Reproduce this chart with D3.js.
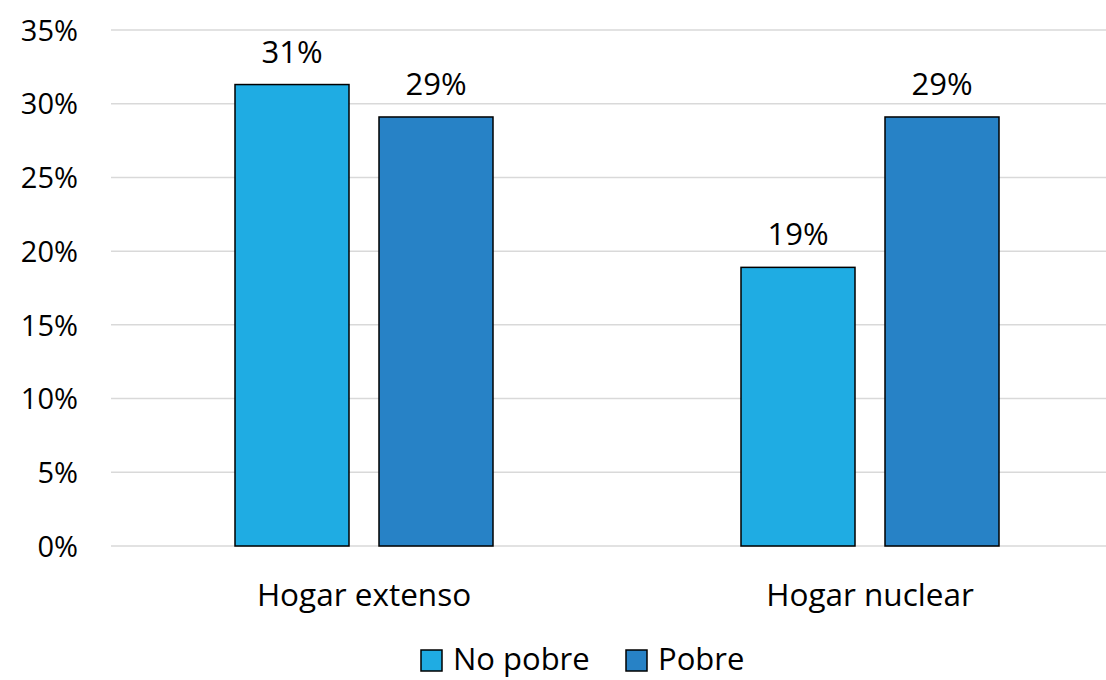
<!DOCTYPE html>
<html><head><meta charset="utf-8">
<script src="https://cdn.jsdelivr.net/npm/d3@7"></script>
<style>body{margin:0;background:#fff}svg{display:block}text{font-family:"Open Sans",sans-serif;fill:#000}</style>
</head><body><svg id="c" width="1106" height="680"></svg>
<script>
const categories = ["Hogar extenso", "Hogar nuclear"];
const seriesNames = ["No pobre", "Pobre"];
const noPobre = [0.313, 0.189];
const pobre = [0.291, 0.291];
const yTicks = [0, 0.05, 0.10, 0.15, 0.20, 0.25, 0.30, 0.35];
const colors = ["#1FACE3", "#2782C6"];

const svg = d3.select("#c");
const m = {l:111, r:1123, t:30, b:546};
const x0 = d3.scaleBand().domain(categories).range([m.l, m.r]);
const x1 = d3.scaleBand().domain(seriesNames).range([0, 258]).paddingInner(30/144);
const y = d3.scaleLinear().domain([0, 0.35]).range([m.b, m.t]);

// gridlines
svg.append("g").selectAll("line").data(yTicks).join("line")
  .attr("x1", m.l).attr("x2", 1106).attr("y1", d=>y(d)).attr("y2", d=>y(d))
  .attr("stroke", "#d9d9d9").attr("stroke-width", 1.5);

// y axis labels
const yAxis = d3.axisLeft(y).tickValues(yTicks).tickFormat(d3.format(".0%")).tickSize(0).tickPadding(0);
const ga = svg.append("g").attr("transform", `translate(${78},0)`).call(yAxis);
ga.select(".domain").remove();
ga.selectAll("text").attr("font-size", 29).attr("font-family", "Open Sans").attr("fill", "#000").attr("dy", "0.35em");

const data = categories.map((c,i)=>({cat:c, vals:[{s:seriesNames[0], v:noPobre[i]}, {s:seriesNames[1], v:pobre[i]}]}));
const groups = svg.append("g").selectAll("g").data(data).join("g")
  .attr("transform", d=>`translate(${x0(d.cat)+x0.bandwidth()/2-129},0)`);
groups.selectAll("rect").data(d=>d.vals).join("rect")
  .attr("x", d=>x1(d.s)).attr("width", x1.bandwidth())
  .attr("y", d=>y(d.v)).attr("height", d=>y(0)-y(d.v))
  .attr("fill", (d,i)=>colors[i]).attr("stroke", "#000").attr("stroke-width", 1.5);
groups.selectAll("text.lbl").data(d=>d.vals).join("text").attr("class","lbl")
  .attr("x", d=>x1(d.s)+x1.bandwidth()/2).attr("y", d=>y(d.v)-22)
  .attr("text-anchor", "middle").attr("font-size", 31)
  .text(d=>d3.format(".0%")(d.v));

// x axis labels
svg.append("g").selectAll("text").data(categories).join("text")
  .attr("x", d=>x0(d)+x0.bandwidth()/2).attr("y", 606)
  .attr("text-anchor", "middle").attr("font-size", 31.5).text(d=>d);

// legend
const legX = [421, 626];
const lg = svg.append("g").selectAll("g").data(seriesNames).join("g")
  .attr("transform", (d,i)=>`translate(${legX[i]},650)`);
lg.append("rect").attr("width", 21).attr("height", 21)
  .attr("fill", (d,i)=>colors[i]).attr("stroke", "#000").attr("stroke-width", 1.5);
lg.append("text").attr("x", 32).attr("y", 20).attr("font-size", 31).text(d=>d);
</script></body></html>
